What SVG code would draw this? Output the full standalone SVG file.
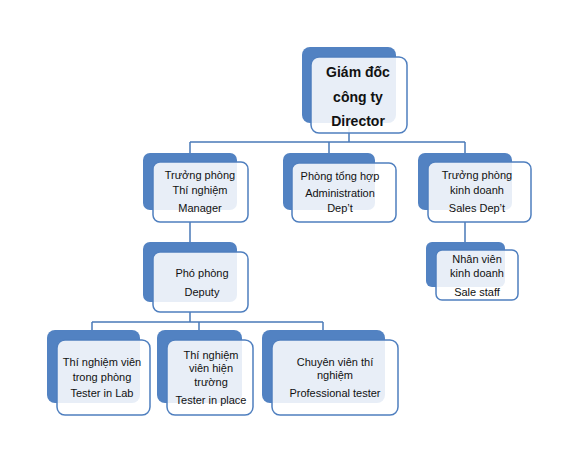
<svg xmlns="http://www.w3.org/2000/svg" width="575" height="471" viewBox="0 0 575 471">
<style>
.bk{fill:#5282c2}
.fr{fill:#ffffff;fill-opacity:0.865;stroke:#4f7fbf;stroke-width:1.5}
.ln{stroke:#4a7ab8;stroke-width:1.5;fill:none}
text{font-family:"Liberation Sans",Arial,sans-serif;font-size:11px;fill:#111111;text-anchor:middle;dominant-baseline:central}
.b{font-weight:bold;font-size:14px}
</style>
<rect width="575" height="471" fill="#ffffff"/>
<g id="connectors">
<path class="ln" d="M349 126V142M190 142H465M190 142V153M329 142V153M465 142V153M190 222V242M465 222V242M190 312V322M92 322H323M92 322V330M199 322V330M323 322V330"/>
</g>
<g id="director">
<rect class="bk" x="302" y="47" width="94" height="76" rx="8"/>
<rect class="fr" x="311" y="57" width="96" height="76" rx="8"/>
<text class="b" x="358" y="72">Giám đốc</text>
<text class="b" x="358" y="97">công ty</text>
<text class="b" x="358" y="121">Director</text>
</g>
<g id="manager">
<rect class="bk" x="143" y="153" width="94" height="57" rx="7"/>
<rect class="fr" x="153" y="162" width="95" height="60" rx="7"/>
<text x="200" y="175">Trưởng phòng</text>
<text x="200" y="190">Thí nghiệm</text>
<text x="200" y="208">Manager</text>
</g>
<g id="admin">
<rect class="bk" x="283" y="153" width="92" height="57" rx="7"/>
<rect class="fr" x="292" y="163" width="104" height="59" rx="7"/>
<text x="340" y="176">Phòng tổng hợp</text>
<text x="340" y="193">Administration</text>
<text x="340" y="208">Dep’t</text>
</g>
<g id="sales">
<rect class="bk" x="418" y="153" width="94" height="57" rx="7"/>
<rect class="fr" x="428" y="162" width="103" height="60" rx="7"/>
<text x="477" y="175">Trưởng phòng</text>
<text x="477" y="190">kinh doanh</text>
<text x="477" y="208">Sales Dep’t</text>
</g>
<g id="deputy">
<rect class="bk" x="143" y="242" width="94" height="60" rx="7"/>
<rect class="fr" x="153" y="252" width="95" height="60" rx="7"/>
<text x="202" y="273">Phó phòng</text>
<text x="202" y="292">Deputy</text>
</g>
<g id="salestaff">
<rect class="bk" x="426" y="242" width="79" height="45" rx="6"/>
<rect class="fr" x="436" y="250" width="82" height="50" rx="6"/>
<text x="477" y="259">Nhân viên</text>
<text x="477" y="273">kinh doanh</text>
<text x="477" y="292">Sale staff</text>
</g>
<g id="testerlab">
<rect class="bk" x="47" y="330" width="93" height="73" rx="8"/>
<rect class="fr" x="57" y="340" width="93" height="75" rx="8"/>
<text x="102" y="362">Thí nghiệm viên</text>
<text x="102" y="377">trong phòng</text>
<text x="102" y="393">Tester in Lab</text>
</g>
<g id="testerplace">
<rect class="bk" x="157" y="330" width="85" height="73" rx="8"/>
<rect class="fr" x="167" y="340" width="86" height="75" rx="8"/>
<text x="211" y="355">Thí nghiệm</text>
<text x="211" y="368">viên hiện</text>
<text x="211" y="382">trường</text>
<text x="211" y="400">Tester in place</text>
</g>
<g id="professional">
<rect class="bk" x="262" y="330" width="123" height="73" rx="8"/>
<rect class="fr" x="272" y="340" width="126" height="75" rx="8"/>
<text x="335" y="362">Chuyên viên thí</text>
<text x="335" y="375">nghiệm</text>
<text x="335" y="393">Professional tester</text>
</g>
</svg>
